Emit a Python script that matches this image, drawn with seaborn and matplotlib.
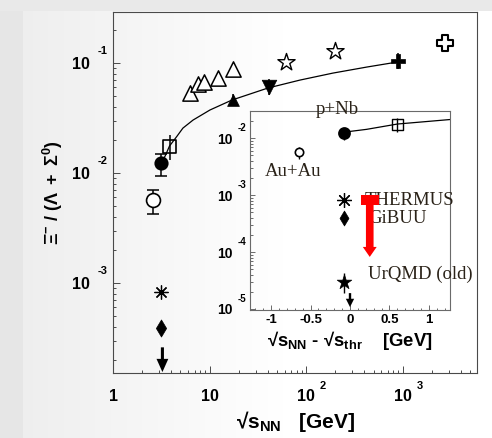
import numpy as np
import matplotlib
matplotlib.use("Agg")
import matplotlib.pyplot as plt
from matplotlib.transforms import offset_copy
import matplotlib.ticker as mticker
import seaborn as sns

# ---------------------------------------------------------------
# Xi- / (Lambda + Sigma0) yield ratio versus sqrt(s_NN)
# ---------------------------------------------------------------
SQRT_S_THR = 3.25  # GeV, NN threshold for Xi- production

# HADES Ar+KCl (labelled Au+Au in the inset)
aa_sqrt_s = [2.61]
aa_ratio = [5.7e-3]
aa_lo = [4.2e-3]
aa_hi = [7.0e-3]

# HADES p+Nb
pnb_sqrt_s = [3.18]
pnb_ratio = [1.24e-2]
pnb_lo = [0.94e-2]
pnb_hi = [1.49e-2]

# open square
sq_sqrt_s = [3.85]
sq_ratio = [1.74e-2]
sq_lo = [1.30e-2]
sq_hi = [2.22e-2]

# model predictions at the p+Nb energy
thermus_ratio = [8.2e-4]
gibuu_ratio = [3.9e-4]
urqmd_ratio = [3.0e-5]
urqmd_lo = [1.9e-5]
urqmd_hi = [4.3e-5]

# upper-limit arrows (start, end of the arrow)
limit_main = [2.6e-4, 1.55e-4]
limit_inset = [1.9e-5, 1.08e-5]

# THERMUS -> one order of magnitude lower (red arrow)
red_arrow_x = 0.25
red_arrow_cap = [0.135, 0.37]
red_arrow_y = [8.2e-4, 8.2e-5]

# SPS heavy-ion data (open triangles)
sps_sqrt_s = [6.3, 7.6, 8.8, 12.3, 17.3]
sps_ratio = [0.0534, 0.0644, 0.0672, 0.0731, 0.0882]

# elementary reactions
pp_sqrt_s = [17.3]
pp_ratio = [0.046]
pp_lo = [0.041]
pp_hi = [0.052]

hb_sqrt_s = [41.6]
hb_ratio = [0.0605]
hb_lo = [0.051]
hb_hi = [0.071]

# RHIC (open stars)
rhic_sqrt_s = [62.4, 200.0]
rhic_ratio = [0.102, 0.128]

# filled cross
ppbar_sqrt_s = [900.0]
ppbar_ratio = [0.104]
ppbar_lo = [0.089]
ppbar_hi = [0.123]

# LHC (open cross)
lhc_sqrt_s = [2760.0]
lhc_ratio = [0.152]

# parametrisation curve (knots)
curve_sqrt_s = [3.18, 3.46, 3.85, 4.6, 5.3, 6.75, 10.1, 17.1, 40.4, 86.7, 190.0, 429.0, 877.0]
curve_ratio = [0.0127, 0.0142, 0.0176, 0.0216, 0.0256, 0.0303, 0.0374, 0.0461,
               0.0593, 0.070, 0.081, 0.092, 0.102]

# ---------------------------------------------------------------
sns.set_theme(style="ticks")
plt.rcParams["font.family"] = ["Liberation Sans", "DejaVu Sans"]
plt.rcParams["mathtext.fontset"] = "custom"
plt.rcParams["mathtext.rm"] = "Liberation Sans"
plt.rcParams["mathtext.bf"] = "Liberation Sans:bold"
plt.rcParams["mathtext.it"] = "Liberation Sans:italic"

W, H, DPI = 492, 438, 100
fig = plt.figure(figsize=(W / DPI, H / DPI), dpi=DPI)
fig.patch.set_facecolor("white")

# slide-like backdrop: grey border, soft grey-to-white gradient
bg = np.ones((H, W))
cols = np.arange(W)
grad = np.clip(0.935 + (cols - 23) / 260.0 * 0.065, 0.935, 1.0)
bg[:, :] = grad[None, :]
bg[:, :23] = 0.905
bg[:11, :] = 0.915
bg_ax = fig.add_axes([0, 0, 1, 1], zorder=-10)
bg_ax.imshow(np.dstack([bg, bg, bg]), aspect="auto", interpolation="nearest")
bg_ax.set_axis_off()

SPINE = "#4a4a4a"
INK = "black"


def px_rect(l, t, r, b):
    return [l / W, 1 - b / H, (r - l) / W, (b - t) / H]


def err(ax, x, y, lo, hi, capsize, lw=1.1, z=3):
    y = np.asarray(y)
    ax.errorbar(x, y, yerr=[y - np.asarray(lo), np.asarray(hi) - y], fmt="none",
                ecolor=INK, elinewidth=lw, capsize=capsize, capthick=lw, zorder=z)


def pts(ax, x, y, marker, size, face, lw=1.2, z=4):
    sns.scatterplot(x=x, y=y, ax=ax, marker=marker, s=size ** 2, color=face,
                    edgecolor=INK, linewidth=lw, zorder=z, legend=False)


def down_arrow(ax, x, ys, tail, hw, hl, color=INK, z=5):
    ax.annotate("", xy=(x, ys[1]), xytext=(x, ys[0]),
                arrowprops=dict(arrowstyle=f"simple,head_width={hw},head_length={hl},tail_width={tail}",
                                mutation_scale=10, color=color, shrinkA=0, shrinkB=0,
                                linewidth=0),
                zorder=z, annotation_clip=False)


def style_axes(ax, color, major, minor):
    for s in ax.spines.values():
        s.set_color(color)
        s.set_linewidth(0.8)
    ax.tick_params(which="both", direction="in", colors=color, width=0.7,
                   top=False, right=False, labelleft=False, labelbottom=False)
    ax.tick_params(which="major", length=major)
    ax.tick_params(which="minor", length=minor)
    ax.set_facecolor("none")
    ax.set_xlabel("")
    ax.set_ylabel("")


def label_10(ax, axis, value, exp, size, sup_size, base_off, sup_off):
    """ROOT-like '10^n' tick label; base_off / sup_off are (dx, dy) in pixels."""
    if axis == "y":
        tr_base = offset_copy(ax.get_yaxis_transform(), fig=fig, x=base_off[0], y=base_off[1], units="dots")
        tr_sup = offset_copy(ax.get_yaxis_transform(), fig=fig, x=sup_off[0], y=sup_off[1], units="dots")
        pos = (0, value)
        ha_base = "right"
    else:
        tr_base = offset_copy(ax.get_xaxis_transform(), fig=fig, x=base_off[0], y=base_off[1], units="dots")
        tr_sup = offset_copy(ax.get_xaxis_transform(), fig=fig, x=sup_off[0], y=sup_off[1], units="dots")
        pos = (value, 0)
        ha_base = "center"
    ax.text(*pos, "10" if exp is not None else "1", transform=tr_base, ha=ha_base,
            va="center_baseline", fontsize=size, fontweight="bold", color=INK, clip_on=False)
    if exp:
        ax.text(*pos, exp, transform=tr_sup, ha="left", va="center_baseline",
                fontsize=sup_size, fontweight="bold", color=INK, clip_on=False)


# ======================= main panel =============================
ax = fig.add_axes(px_rect(113, 11.5, 477, 373))
ax.set_xscale("log")
ax.set_yscale("log")
ax.set_xlim(1.0, 5900.0)
ax.set_ylim(1.52e-4, 0.294)

sns.lineplot(x=curve_sqrt_s, y=curve_ratio, ax=ax, color=INK, linewidth=0.9,
             sort=False, estimator=None, zorder=2)

err(ax, aa_sqrt_s, aa_ratio, aa_lo, aa_hi, 4.5)
pts(ax, aa_sqrt_s, aa_ratio, "o", 10, "white")
err(ax, pnb_sqrt_s, pnb_ratio, pnb_lo, pnb_hi, 4.5)
pts(ax, pnb_sqrt_s, pnb_ratio, "o", 9, INK)
err(ax, sq_sqrt_s, sq_ratio, sq_lo, sq_hi, 0)
pts(ax, sq_sqrt_s, sq_ratio, "s", 10, "none")

ax.plot(pnb_sqrt_s, thermus_ratio, linestyle="none", marker=(8, 2, 0), markersize=10,
        markeredgecolor=INK, markeredgewidth=0.9, zorder=4)
pts(ax, pnb_sqrt_s, gibuu_ratio, "d", 8.7, INK, lw=0.5)
down_arrow(ax, SQRT_S_THR, limit_main, 0.22, 0.85, 0.95)

pts(ax, sps_sqrt_s, sps_ratio, "^", 11, "white", lw=1.1)
err(ax, pp_sqrt_s, pp_ratio, pp_lo, pp_hi, 0)
pts(ax, pp_sqrt_s, pp_ratio, "^", 8.5, INK, lw=0.5)
err(ax, hb_sqrt_s, hb_ratio, hb_lo, hb_hi, 0)
pts(ax, hb_sqrt_s, hb_ratio, "v", 10.5, INK, lw=0.5)
pts(ax, rhic_sqrt_s, rhic_ratio, "*", 13, "white", lw=1.0)
err(ax, ppbar_sqrt_s, ppbar_ratio, ppbar_lo, ppbar_hi, 0)
pts(ax, ppbar_sqrt_s, ppbar_ratio, "P", 9.5, INK, lw=0.5)
pts(ax, lhc_sqrt_s, lhc_ratio, "P", 11, "white", lw=1.5)

style_axes(ax, SPINE, 5.0, 2.5)
ax.xaxis.set_major_locator(mticker.FixedLocator([1, 10, 100, 1000]))
ax.xaxis.set_minor_locator(mticker.LogLocator(base=10, subs=np.arange(2, 10), numticks=20))
ax.yaxis.set_major_locator(mticker.FixedLocator([1e-3, 1e-2, 1e-1]))
ax.yaxis.set_minor_locator(mticker.LogLocator(base=10, subs=np.arange(2, 10), numticks=20))

for v, e in [(1e-3, "-3"), (1e-2, "-2"), (1e-1, "-1")]:
    label_10(ax, "y", v, e, 11.5, 8, (-23, 0), (-15, 13))
for v, e in [(1, None), (10, ""), (100, "2"), (1000, "3")]:
    label_10(ax, "x", v, e, 11.5, 8, (0, -22), (14, -12))

ax.text(0.5, -0.134, "√" + r"$\mathbf{s_{NN}}$" + "   [GeV]", transform=ax.transAxes,
        ha="center", va="center", fontsize=15, fontweight="bold", color=INK)
ax.text(-0.165, 0.5, r"$\mathbf{\Xi^{-}\ /\ (\Lambda\ +\ \Sigma^{0})}$", transform=ax.transAxes,
        ha="center", va="center", rotation=90, fontsize=13, color=INK)

# ======================= inset panel ============================
ai = fig.add_axes(px_rect(250, 111, 450, 309.5))
ai.set_yscale("log")
ai.set_xlim(-1.266, 1.266)
ai.set_ylim(0.98e-5, 0.0298)

d_curve = [s - SQRT_S_THR for s in curve_sqrt_s]
sns.lineplot(x=d_curve, y=curve_ratio, ax=ai, color=INK, linewidth=0.9,
             sort=False, estimator=None, zorder=2)

d_aa = [s - SQRT_S_THR for s in aa_sqrt_s]
d_pnb = [s - SQRT_S_THR for s in pnb_sqrt_s]
d_sq = [s - SQRT_S_THR for s in sq_sqrt_s]

err(ai, d_aa, aa_ratio, aa_lo, aa_hi, 0, lw=1.0)
pts(ai, d_aa, aa_ratio, "o", 6, "white", lw=1.2)
err(ai, d_pnb, pnb_ratio, pnb_lo, pnb_hi, 0, lw=1.0)
pts(ai, d_pnb, pnb_ratio, "o", 8, INK)
err(ai, d_sq, sq_ratio, sq_lo, sq_hi, 0, lw=1.0)
pts(ai, d_sq, sq_ratio, "s", 7.5, "none", lw=1.0)

ai.plot(d_pnb, thermus_ratio, linestyle="none", marker=(8, 2, 0), markersize=10.5,
        markeredgecolor=INK, markeredgewidth=0.9, zorder=4)
pts(ai, d_pnb, gibuu_ratio, "d", 7.6, INK, lw=0.5)
err(ai, d_pnb, urqmd_ratio, urqmd_lo, urqmd_hi, 0, lw=1.0)
pts(ai, d_pnb, urqmd_ratio, "*", 11, INK, lw=0.5)
down_arrow(ai, 0.0, limit_inset, 0.17, 0.6, 0.6)

SERIF = dict(family=["Liberation Serif", "DejaVu Serif"], fontsize=13.5, color="#2a2218")
ai.text(d_pnb[0] - 0.09, 0.0322, "p+Nb", ha="center", va="center", clip_on=False, zorder=6, **SERIF)
ai.text(-0.72, 2.6e-3, "Au+Au", ha="center", va="center", zorder=6, **SERIF)
ai.text(0.19, 8.0e-4, "THERMUS", ha="left", va="center", clip_on=False, zorder=3, **SERIF)
ai.text(0.235, 3.9e-4, "GiBUU", ha="left", va="center", zorder=3, **SERIF)
ai.text(0.23, 4.1e-5, "UrQMD (old)", ha="left", va="center", clip_on=False, zorder=6, **SERIF)

# red arrow: T-shaped cap and downward shaft
ai.plot(red_arrow_cap, [red_arrow_y[0]] * 2, color="#ff0000", linewidth=7.2,
        solid_capstyle="butt", zorder=7)
down_arrow(ai, red_arrow_x, red_arrow_y, 0.55, 1.0, 0.72, color="#ff0000", z=7)

style_axes(ai, "#6a6a6a", 3.6, 1.8)
ai.xaxis.set_major_locator(mticker.FixedLocator([-1, -0.5, 0, 0.5, 1]))
ai.xaxis.set_minor_locator(mticker.MultipleLocator(0.1))
ai.yaxis.set_major_locator(mticker.FixedLocator([1e-5, 1e-4, 1e-3, 1e-2]))
ai.yaxis.set_minor_locator(mticker.LogLocator(base=10, subs=np.arange(2, 10), numticks=20))
ai.tick_params(axis="x", labelbottom=True, pad=3, labelsize=9.5, labelcolor=INK)
ai.set_xticklabels(["-1", "-0.5", "0", "0.5", "1"], fontweight="bold")

for v, e in [(1e-5, "-5"), (1e-4, "-4"), (1e-3, "-3"), (1e-2, "-2")]:
    label_10(ai, "y", v, e, 10, 7, (-17, 0), (-12, 11))

ai.text(0.5, -0.1, "√" + r"$\mathbf{s_{NN}}$" + " - √" + r"$\mathbf{s_{thr}}$" + "    [GeV]",
        transform=ai.transAxes, ha="center", va="top", fontsize=13.3, fontweight="bold", color=INK)

fig.savefig("out.png", dpi=DPI, facecolor=fig.get_facecolor())
